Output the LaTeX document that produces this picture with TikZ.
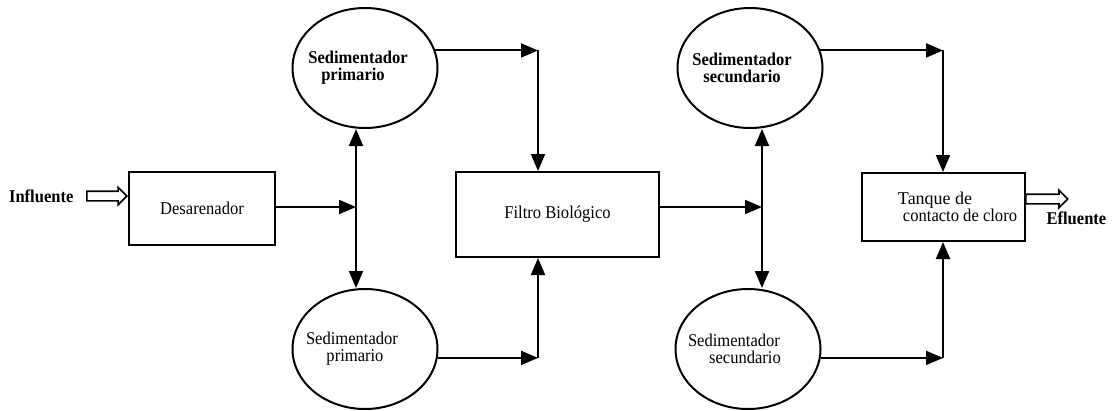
\documentclass[tikz,border=0pt]{standalone}
\usepackage{fontspec}
\setmainfont[FakeStretch=0.92]{Liberation Serif}
\newfontfamily\plainserif{Liberation Serif}
\usetikzlibrary{arrows.meta,shapes.geometric,shapes.arrows}
% a line of zero width, set left of the centre by half of #1
\newcommand\offline[2]{\makebox[0pt]{#2\hspace*{#1}}}

\begin{document}
\begin{tikzpicture}[x=1pt,y=-1pt,
    every node/.style={font=\fontsize{18}{17}\selectfont},
    flow/.style={line width=2pt, -{Triangle[length=17pt,width=14pt]}},
    both/.style={line width=2pt, {Triangle[length=17pt,width=14pt]}-{Triangle[length=17pt,width=14pt]}},
    unit/.style={draw, line width=2pt, rectangle, inner sep=0pt, align=center},
    basin/.style={draw, ellipse, line width=2pt, minimum width=145pt,
                  minimum height=120pt, inner sep=0pt, align=center},
    hollow/.style={draw, single arrow, line width=1.6pt, inner sep=4pt,
                   single arrow head extend=4pt, minimum width=17pt}]

  % page frame
  \useasboundingbox (0,0) rectangle (1119,410);
  \fill[white] (0,0) rectangle (1119,410);

  % treatment units
  \node[unit, minimum width=146pt, minimum height=73pt] (des) at (202,208.5)
       {\raisebox{-8pt}{Desarenador}};
  \node[unit, minimum width=203pt, minimum height=85pt] (filt) at (557.5,214.5)
       {Filtro Biológico};
  \node[unit, minimum width=163pt, minimum height=68pt, align=left] (tank) at (943.5,207)
       {\plainserif\hspace*{28pt}Tanque de\\\hspace*{33pt}contacto de cloro};

  % settling tanks (lines set slightly left of centre)
  \node[basin] (sp1) at (365,68)
       {\offline{14pt}{\bfseries Sedimentador}\\\offline{24pt}{\bfseries primario}};
  \node[basin] (sp2) at (365,349)
       {\offline{26pt}{Sedimentador}\\\offline{20pt}{primario}};
  \node[basin] (ss1) at (750,68)
       {\offline{16pt}{\bfseries Sedimentador}\\\offline{16pt}{\bfseries secundario}};
  \node[basin] (ss2) at (748,349)
       {\offline{28pt}{Sedimentador}\\\offline{6pt}{secundario}};

  % inflow and outflow
  \node[anchor=east, font=\fontsize{18}{17}\selectfont\bfseries] (infl) at (77,196) {Influente};
  \node[hollow, anchor=tip, minimum height=40pt] (inarrow) at (des.west |- infl.center) {};
  \node[hollow, anchor=tail, minimum height=42pt] (outarrow) at (1025,199) {};
  \node[anchor=west, font=\fontsize{18}{17}\selectfont\bfseries] (efl) at (1043,218) {Efluente};

  % junctions and corners of the flow lines
  \coordinate (j1) at (356,207);
  \coordinate (j2) at (762,207);
  \coordinate (c1) at (538,51);
  \coordinate (c2) at (538,358);
  \coordinate (c3) at (943,51);
  \coordinate (c4) at (943,358);

  % primary stage
  \draw[flow] (des.east |- j1) -- (j1);
  \draw[both] (j1 |- sp1.south) -- (j1 |- sp2.north);
  \draw[flow] (sp1.14) -- (sp1.14 -| c1);
  \draw[flow] (sp1.14 -| c1) -- (c1 |- filt.north);
  \draw[flow] (sp2.-7) -- (sp2.-7 -| c2);
  \draw[flow] (sp2.-7 -| c2) -- (c2 |- filt.south);

  % secondary stage
  \draw[flow] (filt.east |- j2) -- (j2);
  \draw[both] (j2 |- ss1.south) -- (j2 |- ss2.north);
  \draw[flow] (ss1.14) -- (ss1.14 -| c3);
  \draw[flow] (ss1.14 -| c3) -- (c3 |- tank.north);
  \draw[flow] (ss2.-7) -- (ss2.-7 -| c4);
  \draw[flow] (ss2.-7 -| c4) -- (c4 |- tank.south);
\end{tikzpicture}
\end{document}
